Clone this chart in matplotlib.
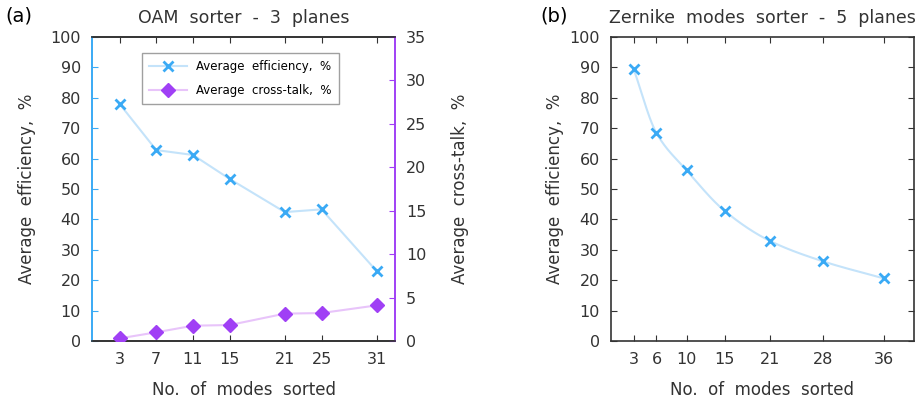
import numpy as np
import matplotlib
matplotlib.use("Agg")
import matplotlib.pyplot as plt

# Data
oam_modes = [3, 7, 11, 15, 21, 25, 31]
oam_eff = [78.0, 62.8, 61.2, 53.3, 42.4, 43.3, 23.0]
oam_xtalk = [0.3, 1.0, 1.76, 1.84, 3.15, 3.22, 4.1]
zern_modes = [3, 6, 10, 15, 21, 28, 36]
zern_eff = [89.4, 68.4, 56.1, 42.8, 32.9, 26.2, 20.6]

BLUE = "#3aaaf5"
BLUE_L = "#c4e3fa"
PURP = "#a040f5"
PURP_L = "#e8c4fa"
DARK = "#333333"

plt.rcParams['font.family'] = ['DejaVu Sans']
plt.rcParams['font.size'] = 11


def smooth(x, y, n=40):
    # monotone cubic (Fritsch-Carlson) for drawing the connecting line
    x = np.asarray(x, float); y = np.asarray(y, float)
    h = np.diff(x); d = np.diff(y) / h
    m = np.zeros_like(y)
    m[0], m[-1] = d[0], d[-1]
    for i in range(1, len(x) - 1):
        if d[i - 1] * d[i] <= 0:
            m[i] = 0
        else:
            w1 = 2 * h[i] + h[i - 1]; w2 = h[i] + 2 * h[i - 1]
            m[i] = (w1 + w2) / (w1 / d[i - 1] + w2 / d[i])
    xs, ys = [], []
    for i in range(len(x) - 1):
        t = np.linspace(0, 1, n)
        h00 = 2*t**3 - 3*t**2 + 1; h10 = t**3 - 2*t**2 + t
        h01 = -2*t**3 + 3*t**2; h11 = t**3 - t**2
        xs.append(x[i] + t * h[i])
        ys.append(h00*y[i] + h10*h[i]*m[i] + h01*y[i+1] + h11*h[i]*m[i+1])
    return np.concatenate(xs), np.concatenate(ys)


fig = plt.figure(figsize=(9.19, 4.07), dpi=100)
ax1 = fig.add_axes([92/919, 1-341/407, 303/919, 304/407])
ax2 = ax1.twinx()
ax3 = fig.add_axes([611/919, 1-341/407, 303/919, 304/407])

# Panel (a)
l1, = ax1.plot(oam_modes, oam_eff, color=BLUE_L, lw=1.5, marker='x', ms=7,
               mew=2, mec=BLUE, mfc=BLUE, label='Average  efficiency,  %', zorder=3)
l2, = ax2.plot(oam_modes, oam_xtalk, color=PURP_L, lw=1.5, marker='D', ms=7,
               mec=PURP, mfc=PURP, label='Average  cross-talk,  %', zorder=3)
ax1.set_xlim(0, 33)
ax1.set_ylim(0, 100)
ax2.set_ylim(0, 35)
ax1.set_xticks(oam_modes)
ax1.set_xticklabels([str(m) for m in oam_modes])
ax1.set_yticks(np.arange(0, 101, 10))
ax2.set_yticks(np.arange(0, 36, 5))
ax1.tick_params(axis='x', direction='in', top=True, length=4, color=DARK, pad=8)
ax1.tick_params(axis='y', direction='in', length=4, color=BLUE, pad=8)
ax2.tick_params(axis='y', direction='in', length=4, color=PURP, pad=8)
for s in ['top', 'bottom']:
    ax1.spines[s].set_color(DARK)
    ax2.spines[s].set_color(DARK)
ax2.spines['left'].set_color(BLUE)
ax2.spines['right'].set_color(PURP)
ax1.spines['left'].set_color(BLUE)
ax1.spines['right'].set_color(PURP)
for sp in list(ax1.spines.values()) + list(ax2.spines.values()):
    sp.set_linewidth(1.2)
ax1.set_xlabel('No.  of  modes  sorted', labelpad=10, fontsize=12, color=DARK)
ax1.set_ylabel('Average  efficiency,  %', fontsize=12, color=DARK, labelpad=10)
ax2.set_ylabel('Average  cross-talk,  %', fontsize=12, color=DARK, labelpad=18)
ax1.set_title('OAM  sorter  -  3  planes', fontsize=12.5, color=DARK, pad=10)
fig.text(5/919, 1-16/407, '(a)', fontsize=14, va='center', ha='left')
leg = ax1.legend(handles=[l1, l2], loc='upper center', bbox_to_anchor=(0.49, 0.967),
                 fontsize=8.5, frameon=True, fancybox=False, edgecolor='#888888',
                 handlelength=3.2, borderpad=0.6, labelspacing=0.9)
leg.get_frame().set_linewidth(1.0)

# Panel (b)
sx, sy = smooth(zern_modes, zern_eff)
ax3.plot(sx, sy, color=BLUE_L, lw=1.5, zorder=2)
ax3.plot(zern_modes, zern_eff, ls='none', marker='x', ms=7, mew=2,
         mec=BLUE, mfc=BLUE, zorder=3)
ax3.set_xlim(0, 40)
ax3.set_ylim(0, 100)
ax3.set_xticks(zern_modes)
ax3.set_xticklabels([str(m) for m in zern_modes])
ax3.set_yticks(np.arange(0, 101, 10))
ax3.tick_params(axis='x', direction='in', top=True, length=4, color=DARK, pad=8)
ax3.tick_params(axis='y', direction='in', right=True, length=4, color=DARK, pad=8)
for sp in ax3.spines.values():
    sp.set_color(DARK)
    sp.set_linewidth(1.2)
ax3.set_xlabel('No.  of  modes  sorted', labelpad=10, fontsize=12, color=DARK)
ax3.set_ylabel('Average  efficiency,  %', fontsize=12, color=DARK)
ax3.set_title('Zernike  modes  sorter  -  5  planes', fontsize=12.5, color=DARK, pad=10)
fig.text(540/919, 1-16/407, '(b)', fontsize=14, va='center', ha='left')

for ax in (ax1, ax2, ax3):
    for lab in ax.get_xticklabels() + ax.get_yticklabels():
        lab.set_color(DARK)
        lab.set_fontsize(11.5)

fig.savefig('out.png', dpi=100)
